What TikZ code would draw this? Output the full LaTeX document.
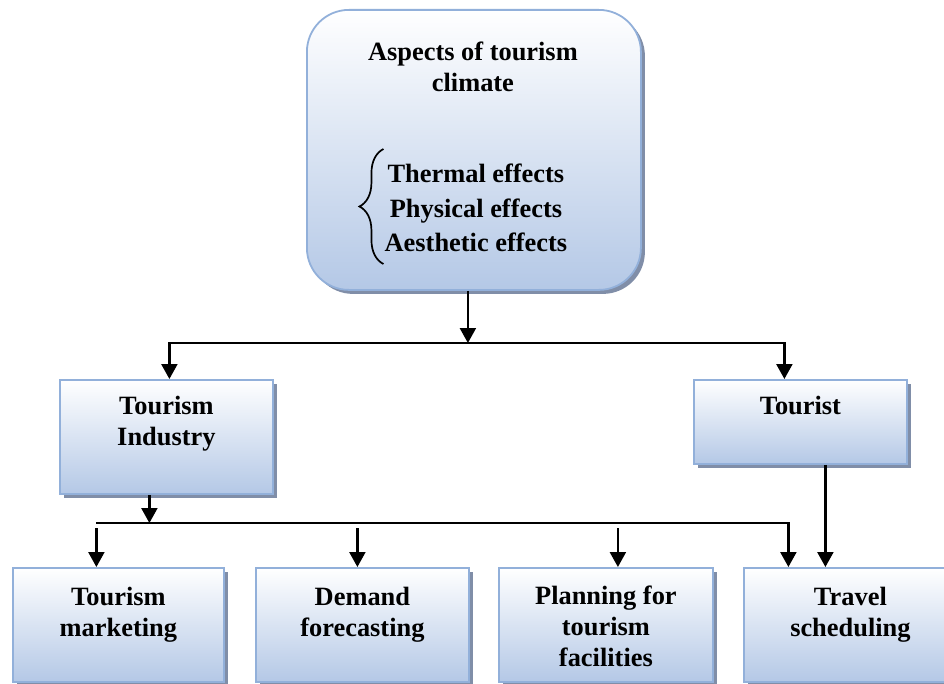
\documentclass[tikz,border=0pt]{standalone}
\usepackage{fontspec}
\setmainfont{Liberation Serif}
\usetikzlibrary{positioning,shadows,arrows.meta,decorations.pathreplacing}

\definecolor{boxblue}{RGB}{180,200,230}
\definecolor{borderblue}{RGB}{146,176,218}
\definecolor{shadowgrey}{RGB}{128,142,168}

\tikzset{
    box/.style={draw=borderblue, line width=1.8bp, top color=white, bottom color=boxblue,
        drop shadow={shadow xshift=4bp, shadow yshift=-4bp, fill=shadowgrey, opacity=1},
        inner sep=0pt, anchor=north west},
    txt/.style={font=\bfseries\fontsize{26.5}{31}\selectfont, align=center, inner sep=0pt},
    arr/.style={line width=2.3bp, -{Triangle[length=15bp, width=16bp]}}
}

\begin{document}
\begin{tikzpicture}[x=1bp, y=1bp]
            \useasboundingbox (0, 0) rectangle (944, -684);
            % boxes
            \node[box, rounded corners=42bp, minimum width=334bp, minimum height=280bp] (aspects) at (306, -9) {};
            \node[box, minimum width=213bp, minimum height=114bp] (industry) at (59, -379) {};
            \node[box, minimum width=213bp, minimum height=84bp] (tourist) at (693, -379) {};
            \node[box, minimum width=211bp, minimum height=114bp] (marketing) at (12, -567) {};
            \node[box, minimum width=213bp, minimum height=114bp] (demand) at (255, -567) {};
            \node[box, minimum width=214bp, minimum height=114bp] (planning) at (498, -567) {};
            \node[box, minimum width=213bp, minimum height=114bp] (travel) at (743, -567) {};
            % texts
            \node[txt, below=33bp of aspects.north, xshift=-1bp] (aspectsText) {Aspects of tourism\\climate};
            \node[txt, below=155bp of aspects.north, xshift=2bp, font=\bfseries\fontsize{26.5}{34.5}\selectfont] (effects) {Thermal effects\\Physical effects\\Aesthetic effects};
            \draw[line width=1.7bp, decorate, decoration={brace, amplitude=24bp}]
                ([xshift=-1bp, yshift=-12bp]effects.south west) -- ([xshift=-1bp, yshift=15bp]effects.north west);
            \node[txt, below=17bp of industry.north] (industryText) {Tourism\\Industry};
            \node[txt, below=17bp of tourist.north] (touristText) {Tourist};
            \node[txt, below=20bp of marketing.north] (marketingText) {Tourism\\marketing};
            \node[txt, below=20bp of demand.north] (demandText) {Demand\\forecasting};
            \node[txt, below=19bp of planning.north] (planningText) {Planning for\\tourism\\facilities};
            \node[txt, below=20bp of travel.north] (travelText) {Travel\\scheduling};
            % connectors
            \coordinate (upbus) at (0, -343);
            \coordinate (lowbus) at (0, -523);
            \coordinate (lowdrop) at (0, -528);
            \coordinate (aspOut) at ([xshift=-6bp]aspects.south);
            \coordinate (indIn) at ([xshift=3bp]industry.north);
            \coordinate (touIn) at ([xshift=-16bp]tourist.north);
            \coordinate (indOut) at ([xshift=-17bp]industry.south);
            \coordinate (touOut) at ([xshift=25bp]tourist.south);
            \coordinate (mkIn) at ([xshift=-22bp]marketing.north);
            \coordinate (demIn) at ([xshift=-5bp]demand.north);
            \coordinate (plaIn) at ([xshift=12bp]planning.north);
            \coordinate (trIn) at ([xshift=-62bp]travel.north);
            \coordinate (trInB) at ([xshift=-24bp]travel.north);
            \draw[arr] (aspOut) -- (aspOut |- upbus);
            \draw[arr] (aspOut |- upbus) -| (indIn);
            \draw[arr] (aspOut |- upbus) -| (touIn);
            \draw[arr] (indOut) -- (indOut |- lowbus);
            \draw[arr] (mkIn |- lowbus) -| (trIn);
            \draw[arr] (mkIn |- lowdrop) -- (mkIn);
            \draw[arr] (demIn |- lowdrop) -- (demIn);
            \draw[arr] (plaIn |- lowdrop) -- (plaIn);
            \draw[arr] (touOut) -- (touOut |- trInB);
        \end{tikzpicture}
\end{document}
